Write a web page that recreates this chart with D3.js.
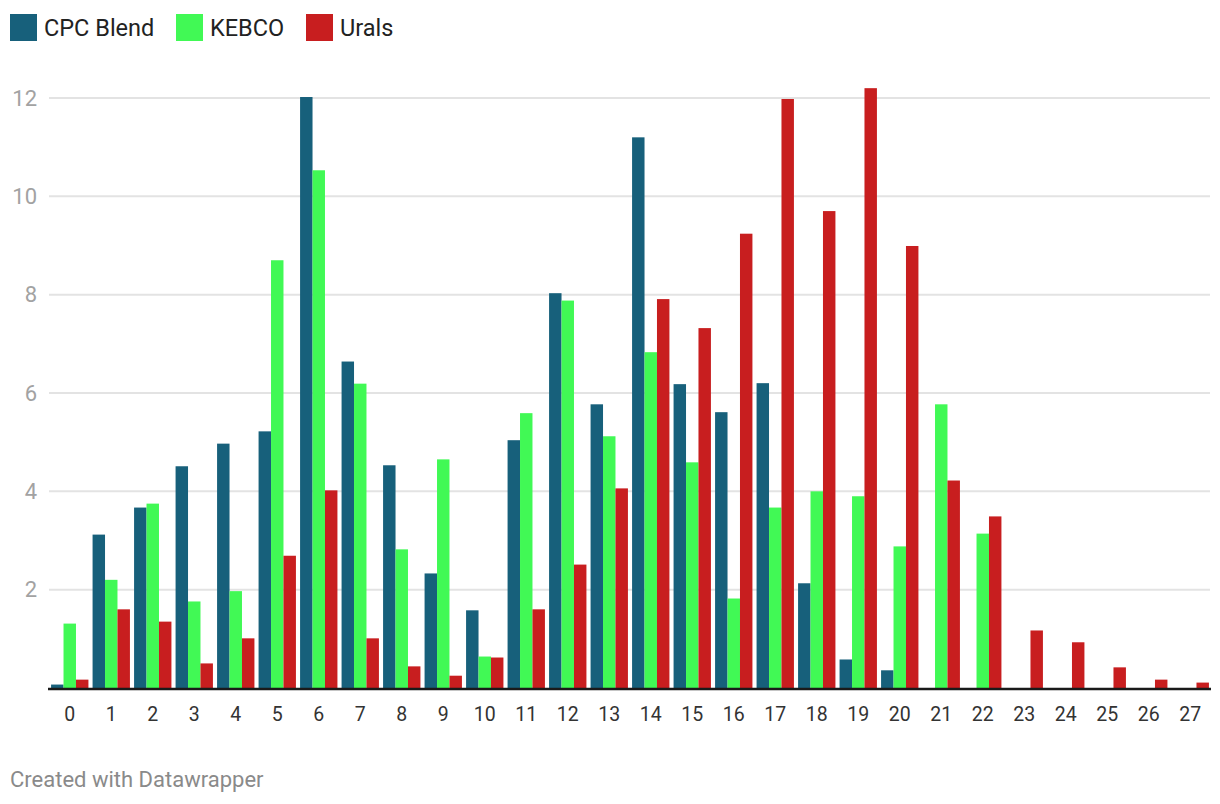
<!DOCTYPE html>
<html>
<head>
<meta charset="utf-8">
<script src="https://cdn.jsdelivr.net/npm/d3@7"></script>
<style>
  html, body { margin: 0; padding: 0; background: #fff; }
  svg { display: block; font-family: Roboto, "Noto Sans", sans-serif; }
</style>
</head>
<body>
<svg id="chart" width="1220" height="804"></svg>
<script>
const categories = ["0","1","2","3","4","5","6","7","8","9","10","11","12","13","14","15","16","17","18","19","20","21","22","23","24","25","26","27"];
const seriesNames = ["CPC Blend", "KEBCO", "Urals"];
const seriesColors = ["#17607b", "#41f955", "#c81e1f"];
const cpcBlend = [0.07, 3.12, 3.67, 4.51, 4.97, 5.22, 12.02, 6.64, 4.53, 2.33, 1.58, 5.04, 8.03, 5.77, 11.2, 6.18, 5.61, 6.2, 2.13, 0.58, 0.36, 0, 0, 0, 0, 0, 0, 0];
const kebco    = [1.31, 2.2, 3.75, 1.76, 1.97, 8.7, 10.53, 6.19, 2.82, 4.65, 0.64, 5.59, 7.88, 5.12, 6.83, 4.59, 1.82, 3.67, 4.0, 3.9, 2.88, 5.77, 3.14, 0, 0, 0, 0, 0];
const urals    = [0.17, 1.6, 1.35, 0.5, 1.01, 2.69, 4.02, 1.01, 0.44, 0.25, 0.62, 1.6, 2.51, 4.06, 7.91, 7.32, 9.24, 11.98, 9.7, 12.2, 8.99, 4.22, 3.49, 1.17, 0.93, 0.42, 0.17, 0.11];
const yTicks = [2, 4, 6, 8, 10, 12];
const footerText = "Created with Datawrapper";

const seriesValues = [cpcBlend, kebco, urals];
const svg = d3.select("#chart");

const x = d3.scaleBand().domain(categories).range([49, 1211]).paddingInner(0.1).paddingOuter(0.05);
const xSub = d3.scaleBand().domain(seriesNames).range([0, x.bandwidth()]).padding(0);
const y = d3.scaleLinear().domain([0, 12]).range([688, 98]);

// gridlines
svg.append("g").selectAll("line").data(yTicks).join("line")
  .attr("x1", 49).attr("x2", 1210)
  .attr("y1", d => y(d)).attr("y2", d => y(d))
  .attr("stroke", "#e3e3e3").attr("stroke-width", 2);

// y labels
svg.append("g").selectAll("text").data(yTicks).join("text")
  .attr("x", 37).attr("y", d => y(d))
  .attr("dy", "0.35em")
  .attr("text-anchor", "end")
  .attr("font-size", 22)
  .attr("fill", "#a2a2a2")
  .text(d => d);

// bars
const rows = categories.map((c, i) => ({ cat: c, vals: seriesNames.map((s, j) => ({ s, j, v: seriesValues[j][i] })) }));
const groups = svg.append("g").selectAll("g").data(rows).join("g")
  .attr("transform", d => `translate(${x(d.cat)},0)`);
groups.selectAll("rect").data(d => d.vals.filter(e => e.v > 0)).join("rect")
  .attr("x", d => xSub(d.s))
  .attr("width", xSub.bandwidth())
  .attr("y", d => y(d.v))
  .attr("height", d => y(0) - y(d.v))
  .attr("fill", d => seriesColors[d.j]);

// baseline axis
svg.append("line")
  .attr("x1", 48).attr("x2", 1211)
  .attr("y1", y(0) + 1).attr("y2", y(0) + 1)
  .attr("stroke", "#1a1a1a").attr("stroke-width", 2.5);

// x axis labels
const xAxis = d3.axisBottom(x).tickSize(0).tickPadding(0);
const xg = svg.append("g").attr("transform", `translate(0,${y(0)})`).call(xAxis);
xg.select(".domain").remove();
xg.selectAll("text")
  .attr("y", 26)
  .attr("dy", "0.35em")
  .attr("font-size", 19.5)
  .attr("font-family", "Roboto, sans-serif")
  .attr("fill", "#333");

// legend
const legendX = [10, 176, 306];
const leg = svg.append("g").selectAll("g").data(seriesNames).join("g")
  .attr("transform", (d, i) => `translate(${legendX[i]},14)`);
leg.append("rect").attr("width", 27).attr("height", 27).attr("fill", (d, i) => seriesColors[i]);
leg.append("text").attr("x", 34).attr("y", 13.5).attr("dy", "0.35em")
  .attr("font-size", 23.5).attr("fill", "#222").text(d => d);

// footer
svg.append("text").attr("x", 10).attr("y", 779).attr("dy", "0.35em")
  .attr("font-size", 22).attr("fill", "#8a8a8a").text(footerText);
</script>
</body>
</html>
